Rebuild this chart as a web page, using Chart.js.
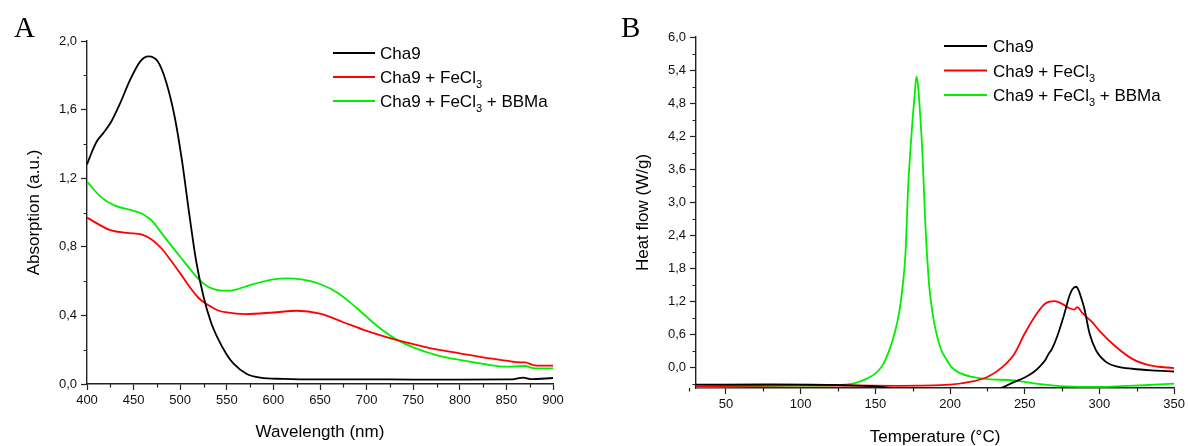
<!DOCTYPE html>
<html>
<head>
<meta charset="utf-8">
<script src="https://cdn.jsdelivr.net/npm/chart.js@4.4.0/dist/chart.umd.min.js"></script>
<style>
  body { margin: 0; background: #fff; }
  #wrap { position: relative; width: 1188px; height: 446px; }
  canvas { position: absolute; top: 0; }
</style>
</head>
<body>
<div id="wrap">
  <canvas id="uv" width="594" height="446" style="left:0"></canvas>
  <canvas id="dsc" width="594" height="446" style="left:594px"></canvas>
</div>
<script>
// series names (shared by both panels)
var seriesNames = ['Cha9', 'Cha9 + FeCl\u2083', 'Cha9 + FeCl\u2083 + BBMa']
var seriesColors = ['#000000', '#ff0000', '#00ee00']

// panel A - UV-vis absorption
var wlCha9 = [400, 405, 410, 417, 425, 435, 446, 457, 466, 476, 485, 494, 502, 510, 517, 525, 533, 540, 550, 557, 571, 586, 610, 650, 700, 750, 800, 855, 862, 868, 876, 900]
var absCha9 = [1.28, 1.35, 1.41, 1.46, 1.52, 1.63, 1.77, 1.88, 1.91, 1.88, 1.76, 1.56, 1.30, 0.98, 0.72, 0.51, 0.36, 0.27, 0.17, 0.12, 0.06, 0.037, 0.03, 0.027, 0.027, 0.026, 0.026, 0.027, 0.033, 0.037, 0.028, 0.035]
var wlFe = [400, 425, 440, 450, 460, 470, 480, 490, 500, 510, 520, 530, 540, 550, 570, 600, 625, 650, 675, 700, 725, 750, 775, 800, 825, 850, 865, 870, 880, 900]
var absFe = [0.97, 0.897, 0.883, 0.878, 0.87, 0.84, 0.79, 0.72, 0.645, 0.567, 0.50, 0.46, 0.43, 0.417, 0.408, 0.417, 0.427, 0.41, 0.36, 0.31, 0.268, 0.233, 0.202, 0.179, 0.155, 0.136, 0.126, 0.126, 0.109, 0.107]
var wlBBMa = [400, 415, 430, 450, 460, 470, 480, 490, 500, 510, 520, 530, 540, 550, 560, 575, 600, 615, 630, 650, 670, 690, 710, 730, 750, 775, 800, 825, 850, 870, 880, 900]
var absBBMa = [1.18, 1.09, 1.04, 1.01, 0.99, 0.95, 0.88, 0.81, 0.742, 0.674, 0.61, 0.567, 0.548, 0.544, 0.551, 0.577, 0.61, 0.616, 0.61, 0.583, 0.528, 0.44, 0.344, 0.266, 0.214, 0.169, 0.14, 0.117, 0.101, 0.105, 0.091, 0.091]
var wlTicks = [400, 450, 500, 550, 600, 650, 700, 750, 800, 850, 900]
var absTicks = [0, 0.4, 0.8, 1.2, 1.6, 2.0]

// panel B - DSC heat flow
var tCha9 = [30, 80, 130, 150, 165, 180, 200, 220, 234, 243, 250, 256, 260, 264, 266, 268, 272, 276, 280, 282, 284.4, 286, 288, 290, 293.4, 297.8, 304.5, 312, 322, 335, 350]
var hfCha9 = [-0.32, -0.315, -0.33, -0.35, -0.39, -0.45, -0.50, -0.46, -0.38, -0.27, -0.19, -0.09, 0.01, 0.14, 0.24, 0.32, 0.58, 0.92, 1.30, 1.42, 1.46, 1.40, 1.24, 1.05, 0.61, 0.30, 0.09, 0.01, -0.03, -0.06, -0.08]
var tFe = [30, 100, 165, 200, 215, 225, 235, 243, 250, 258, 264, 270, 275, 280, 283.3, 285, 289, 295, 300, 311, 322, 334, 350]
var hfFe = [-0.35, -0.33, -0.34, -0.32, -0.26, -0.18, 0.0, 0.24, 0.61, 0.97, 1.16, 1.20, 1.15, 1.07, 1.045, 1.09, 0.97, 0.82, 0.66, 0.37, 0.15, 0.03, -0.02]
var tBBMa = [30, 80, 122, 130, 135, 140, 145, 150, 155, 159, 163, 166, 168, 170.2, 172, 174.6, 176.5, 177.5, 178.5, 180, 181.5, 183.5, 186, 188.5, 191, 194, 197.6, 201, 206, 215, 225, 243, 255, 278, 303, 311, 330, 350]
var hfBBMa = [-0.36, -0.34, -0.33, -0.32, -0.30, -0.26, -0.20, -0.12, 0.04, 0.28, 0.62, 1.0, 1.4, 2.07, 3.28, 4.37, 5.0, 5.28, 5.15, 4.6, 3.9, 2.6, 1.5, 0.95, 0.6, 0.32, 0.14, 0.0, -0.10, -0.18, -0.22, -0.24, -0.29, -0.35, -0.36, -0.35, -0.33, -0.30]
var tTicks = [50, 100, 150, 200, 250, 300, 350]
var hfTicks = [0, 0.6, 1.2, 1.8, 2.4, 3.0, 3.6, 4.2, 4.8, 5.4, 6.0]

var FONT = "'Liberation Sans', Arial, sans-serif"
var AXIS = '#222'

function toPoints(xs, ys) {
  return xs.map(function (x, i) { return {x: x, y: ys[i]} })
}

function comma(v) {
  return Number(v).toFixed(1).replace('.', ',')
}

function makeSets(pairs) {
  return pairs.map(function (p, i) {
    return {
      label: seriesNames[i],
      data: toPoints(p[0], p[1]),
      borderColor: seriesColors[i],
      borderWidth: 1.8,
      pointRadius: 0,
      fill: false,
      cubicInterpolationMode: 'monotone'
    }
  })
}

// short minor ticks between the major ones, drawn through the scales
var minorTicks = {
  id: 'minorTicks',
  afterDraw: function (chart, args, opts) {
    var ctx = chart.ctx
    var xs = chart.scales.x, ys = chart.scales.y
    ctx.save()
    ctx.strokeStyle = AXIS
    ctx.lineWidth = 1.2
    ctx.beginPath()
    for (var v = opts.xFrom; v <= xs.max + 1e-9; v += opts.xStep) {
      var px = Math.round(xs.getPixelForValue(v)) + 0.5
      ctx.moveTo(px, xs.top)
      ctx.lineTo(px, xs.top + 3.5)
    }
    for (var w = opts.yFrom; w <= ys.max + 1e-9; w += opts.yStep) {
      if (w < ys.min - 1e-9) continue
      var py = Math.round(ys.getPixelForValue(w)) + 0.5
      ctx.moveTo(ys.right, py)
      ctx.lineTo(ys.right - 3.5, py)
    }
    ctx.stroke()
    ctx.restore()
  }
}

// legend with subscript 3, plus the panel letter
var sideLegend = {
  id: 'sideLegend',
  afterDraw: function (chart, args, opts) {
    var ctx = chart.ctx
    ctx.save()
    ctx.fillStyle = '#000'
    ctx.textBaseline = 'alphabetic'
    ctx.font = opts.letterSize + "px 'Liberation Serif', 'Times New Roman', serif"
    ctx.fillText(opts.letter, opts.letterX, opts.letterY)
    chart.data.datasets.forEach(function (ds, i) {
      var y = opts.y + i * opts.row
      ctx.strokeStyle = ds.borderColor
      ctx.lineWidth = 1.8
      ctx.beginPath()
      ctx.moveTo(opts.x, y)
      ctx.lineTo(opts.x + opts.len, y)
      ctx.stroke()
      var parts = ds.label.split('\u2083')
      var tx = opts.x + opts.len + opts.gap
      var ty = y + 6
      ctx.fillStyle = '#000'
      parts.forEach(function (part, k) {
        ctx.font = opts.size + 'px ' + FONT
        ctx.fillText(part, tx, ty)
        tx += ctx.measureText(part).width
        if (k < parts.length - 1) {
          ctx.font = Math.round(opts.size * 0.62) + 'px ' + FONT
          ctx.fillText('3', tx, ty + 5)
          tx += ctx.measureText('3').width
        }
      })
    })
    ctx.restore()
  }
}

function axisX(min, max, ticks, title, height, titlePad) {
  return {
    type: 'linear', min: min, max: max,
    afterBuildTicks: function (s) { s.ticks = ticks.map(function (v) { return {value: v} }) },
    afterFit: function (s) { s.height = height },
    grid: {drawOnChartArea: false, drawTicks: true, tickLength: 6, tickWidth: 1.2, tickColor: AXIS},
    border: {display: true, color: AXIS, width: 1.4},
    ticks: {color: '#111', font: {family: FONT, size: 13}, padding: 3, maxRotation: 0, autoSkip: false},
    title: {display: true, text: title, color: '#000', font: {family: FONT, size: 17, lineHeight: 1}, padding: {top: 0, bottom: titlePad}}
  }
}

function axisY(min, max, ticks, title, width, titlePad) {
  return {
    type: 'linear', min: min, max: max,
    afterBuildTicks: function (s) { s.ticks = ticks.map(function (v) { return {value: v} }) },
    afterFit: function (s) { s.width = width },
    grid: {drawOnChartArea: false, drawTicks: true, tickLength: 6, tickWidth: 1.2, tickColor: AXIS},
    border: {display: true, color: AXIS, width: 1.4},
    ticks: {color: '#111', font: {family: FONT, size: 13}, padding: 4, autoSkip: false, callback: function (v) { return comma(v) }},
    title: {display: true, text: title, color: '#000', font: {family: FONT, size: 17, lineHeight: 1}, padding: {top: titlePad, bottom: 0}}
  }
}

var chartA = new Chart(document.getElementById('uv').getContext('2d'), {
  type: 'line',
  data: {datasets: makeSets([[wlCha9, absCha9], [wlFe, absFe], [wlBBMa, absBBMa]])},
  options: {
    responsive: false,
    animation: false,
    layout: {padding: {top: 41, right: 41, left: 0, bottom: 0}},
    plugins: {
      legend: {display: false},
      tooltip: {enabled: false},
      minorTicks: {xFrom: 425, xStep: 50, yFrom: 0.2, yStep: 0.4},
      sideLegend: {x: 333, y: 53, row: 24, len: 42, gap: 5, size: 17, letter: 'A', letterX: 14, letterY: 37, letterSize: 29}
    },
    scales: {
      x: axisX(400, 900, wlTicks, 'Wavelength (nm)', 62, 5.5),
      y: axisY(0, 2, absTicks, 'Absorption (a.u.)', 87, 25.5)
    }
  },
  plugins: [minorTicks, sideLegend]
})

var chartB = new Chart(document.getElementById('dsc').getContext('2d'), {
  type: 'line',
  data: {datasets: makeSets([[tCha9, hfCha9], [tFe, hfFe], [tBBMa, hfBBMa]])},
  options: {
    responsive: false,
    animation: false,
    layout: {padding: {top: 37, right: 13, left: 0, bottom: 0}},
    plugins: {
      legend: {display: false},
      tooltip: {enabled: false},
      minorTicks: {xFrom: 25, xStep: 50, yFrom: -0.3, yStep: 0.6},
      sideLegend: {x: 350, y: 46, row: 24.5, len: 43, gap: 6, size: 17, letter: 'B', letterX: 27, letterY: 37, letterSize: 29}
    },
    scales: {
      x: axisX(30, 350, tTicks, 'Temperature (\u00b0C)', 58, 0.5),
      y: axisY(-0.38, 6, hfTicks, 'Heat flow (W/g)', 102, 40.5)
    }
  },
  plugins: [minorTicks, sideLegend]
})
</script>
</body>
</html>
